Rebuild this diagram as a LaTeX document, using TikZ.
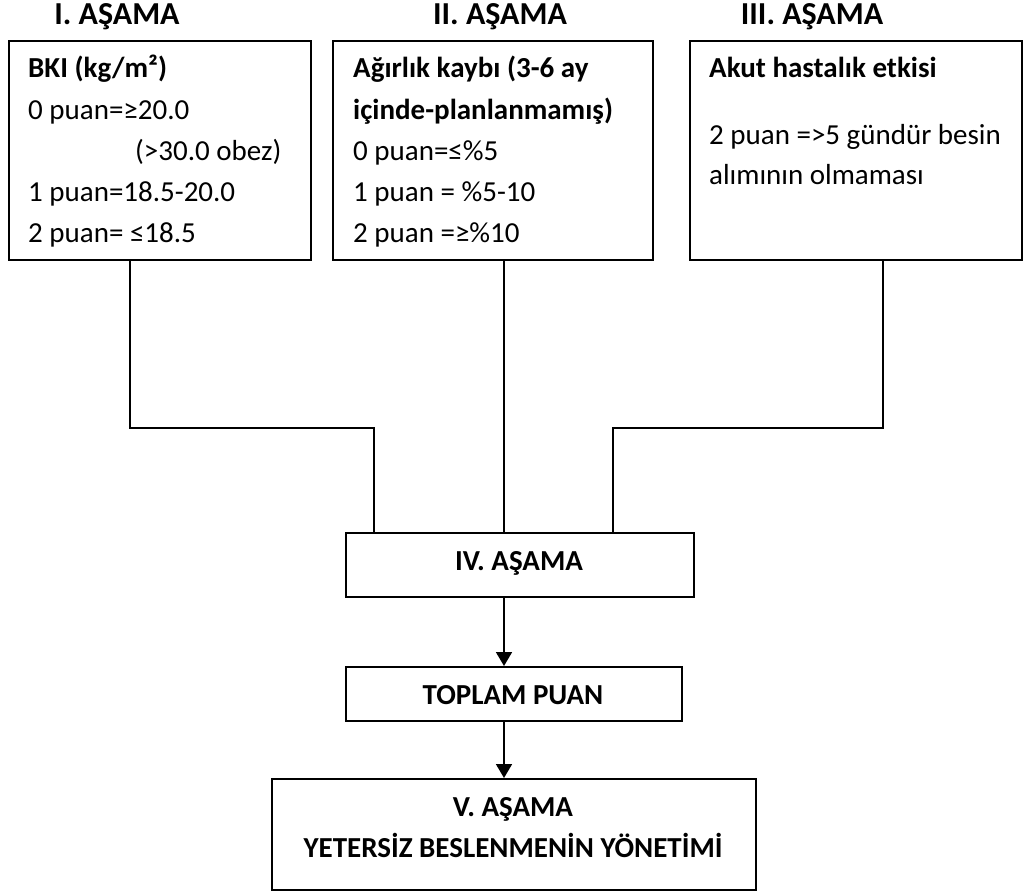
\documentclass[tikz,border=0pt]{standalone}
\usepackage{fontspec}
\setmainfont{Carlito}
\usepackage{tikz}
\usetikzlibrary{arrows.meta}
\newcommand{\asmFont}{\fontsize{29}{42}\selectfont}
\newcommand{\asmTitleFont}{\fontsize{32}{42}\selectfont}

\begin{document}
\begin{tikzpicture}[x=1pt,y=-1pt,
  asmBox/.style={draw, line width=1.8pt, inner sep=0pt, anchor=north west},
  asmLeft/.style={anchor=base west, inner sep=0pt, font=\asmFont},
  asmMid/.style={anchor=base, inner sep=0pt, font=\asmFont\bfseries},
  asmHead/.style={anchor=base, inner sep=0pt, font=\asmTitleFont\bfseries},
  asmLine/.style={line width=1.8pt},
  asmArrow/.style={line width=1.8pt, -{Triangle[width=16pt,length=14pt]}}]
\useasboundingbox (0,0) rectangle (1035,893);
\node[asmHead] (headI) at (117,25) {I. AŞAMA};
\node[asmHead] (headII) at (500,25) {II. AŞAMA};
\node[asmHead] (headIII) at (812,25) {III. AŞAMA};
\node[asmBox, minimum width=302, minimum height=219] (boxI) at (8,40) {};
\node[asmBox, minimum width=320, minimum height=219] (boxII) at (332,40) {};
\node[asmBox, minimum width=332, minimum height=219] (boxIII) at (689,40) {};
\node[asmLeft] (bki) at (28,78) {\bfseries BKI (kg/m²)};
\node[asmLeft] (bkiA) at (28,119.5) {0 puan=≥20.0};
\node[asmLeft] (bkiObez) at (135,161) {(>30.0 obez)};
\node[asmLeft] (bkiB) at (28,202) {1 puan=18.5-20.0};
\node[asmLeft] (bkiC) at (28,243) {2 puan= ≤18.5};
\node[asmLeft] (kayip) at (353,78) {\bfseries Ağırlık kaybı (3-6 ay};
\node[asmLeft] (kayipB) at (353,119.5) {\bfseries içinde-planlanmamış)};
\node[asmLeft] (kayipC) at (353,161) {0 puan=≤\%5};
\node[asmLeft] (kayipD) at (353,202) {1 puan = \%5-10};
\node[asmLeft] (kayipE) at (353,243) {2 puan =≥\%10};
\node[asmLeft] (akut) at (709,78) {\bfseries Akut hastalık etkisi};
\node[asmLeft] (akutA) at (709,145) {2 puan =>5 gündür besin};
\node[asmLeft] (akutB) at (709,185) {alımının olmaması};
\node[asmBox, minimum width=348, minimum height=64] (boxIV) at (345,532) {};
\node[asmMid] (textIV) at (519,570) {IV. AŞAMA};
\node[asmBox, minimum width=336, minimum height=54] (boxSum) at (345,666) {};
\node[asmMid] (textSum) at (513,704) {TOPLAM PUAN};
\node[asmBox, minimum width=484, minimum height=111] (boxV) at (271,778) {};
\node[asmMid] (textV) at (513,816) {V. AŞAMA};
\node[asmMid] (textVb) at (513,857) {YETERSİZ BESLENMENİN YÖNETİMİ};
% elbows between the three stages and IV
\coordinate (elbowI) at (130,428);
\coordinate (elbowIb) at (374,428);
\coordinate (spine) at (504,428);
\coordinate (elbowIII) at (883,428);
\coordinate (elbowIIIb) at (613,428);
\draw[asmLine] (boxI.south -| elbowI) -- (elbowI) -- (elbowIb) -- (elbowIb |- boxIV.north);
\draw[asmLine] (boxII.south -| spine) -- (spine |- boxIV.north);
\draw[asmLine] (boxIII.south -| elbowIII) -- (elbowIII) -- (elbowIIIb) -- (elbowIIIb |- boxIV.north);
\draw[asmArrow] (boxIV.south -| spine) -- (boxSum.north -| spine);
\draw[asmArrow] (boxSum.south -| spine) -- (boxV.north -| spine);
\end{tikzpicture}
\end{document}
